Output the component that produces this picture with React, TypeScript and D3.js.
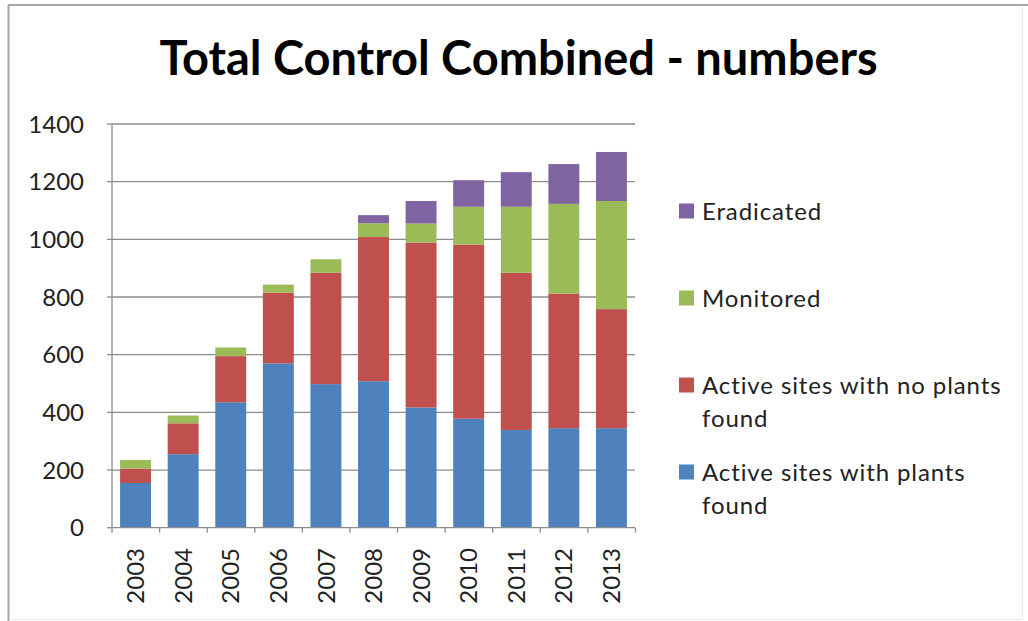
import React from "react";
import * as d3 from "d3";

const years = ["2003","2004","2005","2006","2007","2008","2009","2010","2011","2012","2013"];
const plantsFound = [155, 255, 435, 570, 498, 508, 417, 378, 339, 345, 345];
const noPlantsFound = [50, 107, 160, 245, 386, 500, 572, 604, 545, 467, 413];
const monitored = [30, 27, 30, 28, 47, 48, 66, 131, 229, 311, 375];
const eradicated = [0, 0, 0, 0, 0, 28, 78, 92, 120, 138, 170];
const yTicks = [0, 200, 400, 600, 800, 1000, 1200, 1400];

const seriesNames = ["Active sites with plants found", "Active sites with no plants found", "Monitored", "Eradicated"];
const seriesValues = [plantsFound, noPlantsFound, monitored, eradicated];
const colors = ["#4F81BD", "#C0504D", "#9BBB59", "#8064A2"];
const legendLines = [["Eradicated"], ["Monitored"], ["Active sites with no plants", "found"], ["Active sites with plants", "found"]];
const legendSeries = [3, 2, 1, 0];

const W = 1028, H = 621;
const FONT = "Lato, 'Open Sans', sans-serif";

export default function App() {
  const left = 112, right = 635, top = 124, bottom = 527.7;
  const x = d3.scaleBand<string>().domain(years).range([left, right]).paddingInner(0.35).paddingOuter(0.17);
  const y = d3.scaleLinear().domain([0, 1400]).range([bottom, top]);

  const rows = years.map((yr, i) => {
    const r: any = { year: yr };
    seriesNames.forEach((n, s) => (r[n] = seriesValues[s][i]));
    return r;
  });
  const stacked = d3.stack<any>().keys(seriesNames)(rows);

  const legendY = [211, 298, 385, 472];
  const step = x.step();

  return (
    <svg width={W} height={H} style={{ position: "absolute", left: 0, top: 0, background: "#fff" }}>
      <rect x={0} y={0} width={W} height={H} fill="#fff" />
      {/* outer border */}
      <line x1={8.5} y1={5} x2={8.5} y2={H} stroke="#a6a6a6" strokeWidth={2} />
      <line x1={8} y1={5} x2={W} y2={5} stroke="#a6a6a6" strokeWidth={2} />
      <line x1={1022.5} y1={6} x2={1022.5} y2={619} stroke="#ececec" strokeWidth={1} />
      <line x1={9} y1={619.5} x2={1022} y2={619.5} stroke="#ececec" strokeWidth={1} />

      <text x={518.5} y={75} textAnchor="middle" fontFamily={FONT} fontWeight={700} fontSize={47} fill="#000">
        Total Control Combined - numbers
      </text>

      {/* gridlines */}
      {yTicks.map((t) => (
        <g key={t}>
          {t > 0 && <line x1={left} x2={right} y1={y(t)} y2={y(t)} stroke="#8c8c8c" strokeWidth={1.3} />}
          <line x1={left - 5} x2={left} y1={y(t)} y2={y(t)} stroke="#8c8c8c" strokeWidth={1.3} />
          <text x={84} y={y(t)} dy="0.36em" textAnchor="end" fontFamily={FONT} fontSize={24} fill="#222">
            {t}
          </text>
        </g>
      ))}

      {/* bars */}
      {stacked.map((layer, s) => (
        <g key={layer.key} fill={colors[s]}>
          {layer.map((d, i) =>
            d[1] - d[0] > 0 ? (
              <rect key={i} x={x(years[i])} width={x.bandwidth()} y={y(d[1])} height={y(d[0]) - y(d[1])} />
            ) : null
          )}
        </g>
      ))}

      {/* axes */}
      <line x1={left} x2={left} y1={top} y2={bottom} stroke="#8c8c8c" strokeWidth={1.3} />
      <line x1={left} x2={right} y1={bottom} y2={bottom} stroke="#8c8c8c" strokeWidth={1.3} />
      {years.map((yr, i) => (
        <line key={"t" + yr} x1={left + step * (i + 1)} x2={left + step * (i + 1)} y1={bottom} y2={bottom + 5} stroke="#8c8c8c" strokeWidth={1.3} />
      ))}
      <line x1={left} x2={left} y1={bottom} y2={bottom + 5} stroke="#8c8c8c" strokeWidth={1.3} />

      {years.map((yr) => {
        const cx = (x(yr) as number) + x.bandwidth() / 2;
        return (
          <text key={yr} transform={`translate(${cx},${548}) rotate(-90)`} dy="0.36em" textAnchor="end" fontFamily={FONT} fontSize={24} fill="#222">
            {yr}
          </text>
        );
      })}

      {/* legend */}
      {legendSeries.map((s, k) => (
        <g key={s}>
          <rect x={679} y={legendY[k] - 7.5} width={15} height={15} fill={colors[s]} />
          {legendLines[k].map((ln, j) => (
            <text key={j} x={702} y={legendY[k] + j * 33} dy="0.36em" fontFamily={FONT} fontSize={24} letterSpacing={0.9} fill="#222">
              {ln}
            </text>
          ))}
        </g>
      ))}
    </svg>
  );
}
